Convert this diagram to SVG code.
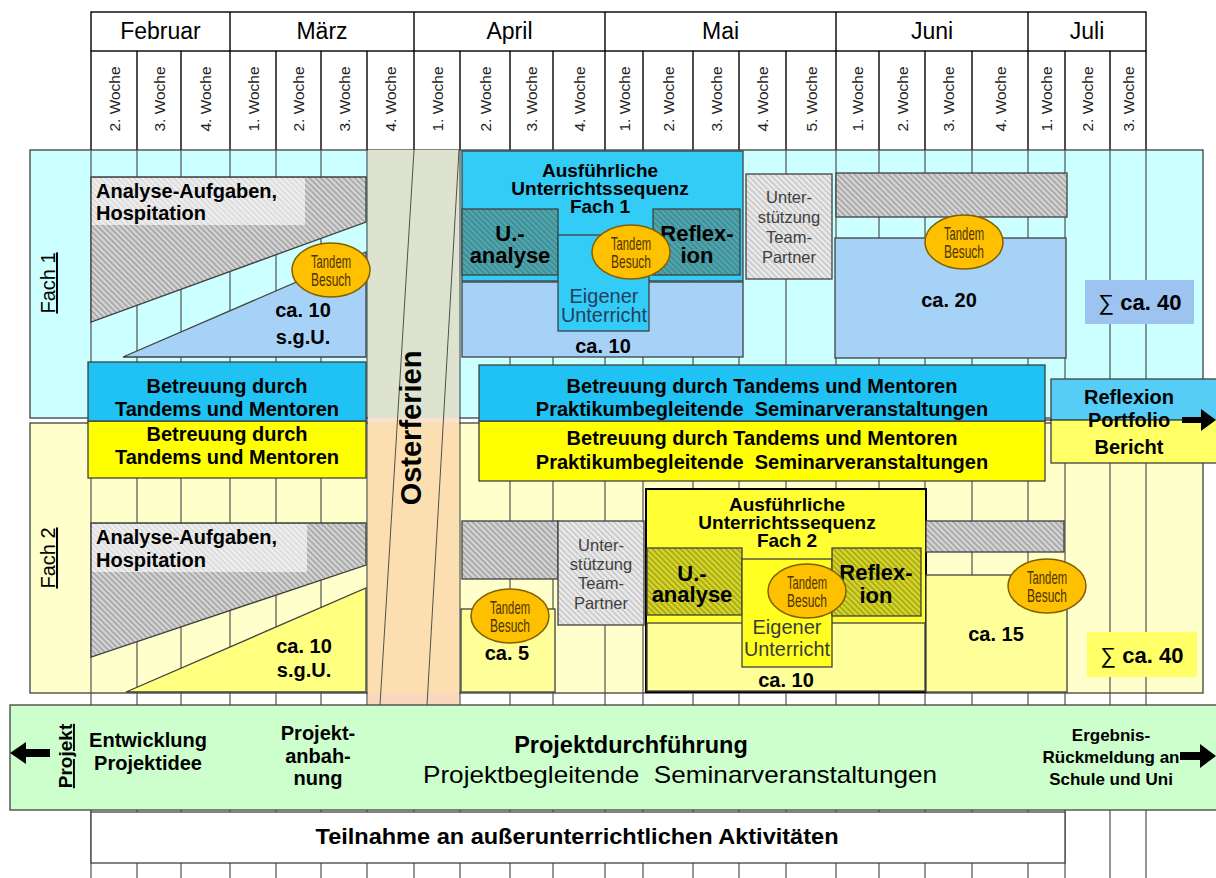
<svg xmlns="http://www.w3.org/2000/svg" width="1216" height="878" viewBox="0 0 1216 878">
<defs>
<style>
text{font-family:"Liberation Sans",Arial,sans-serif;fill:#000}
.m{text-anchor:middle}
.wk{font-size:15.5px;text-anchor:middle;fill:#222}
.mo{font-size:23px;text-anchor:middle}
.grid{stroke:#505050;stroke-width:1.2}
.hdr{stroke:#000;stroke-width:1.4;fill:none}
.box{stroke:#404040;stroke-width:1.3}
.t19{font-size:19px;font-weight:bold;text-anchor:middle}
.bt{font-size:20px;font-weight:bold;text-anchor:middle;white-space:pre}
.t20{font-size:20px;font-weight:bold;text-anchor:middle}
.t22{font-size:22px;font-weight:bold;text-anchor:middle}
.lbl{font-size:20px;font-weight:bold}
.tan{font-size:19px;text-anchor:middle;fill:#4a3500}
.ell{fill:#ffc000;stroke:#806000;stroke-width:1.5}
.us{font-size:16.5px;text-anchor:middle;fill:#404040}
.eig{font-size:20px;text-anchor:middle}
.sl{stroke:#505050;stroke-width:1}
.arr{fill:#000}
</style>
<pattern id="hG" width="4" height="4" patternUnits="userSpaceOnUse" patternTransform="rotate(-45)">
<rect width="4" height="4" fill="#d6d6d6"/><line x1="1" y1="0" x2="1" y2="4" stroke="#8e8e8e" stroke-width="1.2"/>
</pattern>
<pattern id="hL" width="4" height="4" patternUnits="userSpaceOnUse" patternTransform="rotate(-45)">
<rect width="4" height="4" fill="#ececec"/><line x1="1" y1="0" x2="1" y2="4" stroke="#b4b4b4" stroke-width="1.1"/>
</pattern>
<pattern id="hT" width="4" height="4" patternUnits="userSpaceOnUse" patternTransform="rotate(-45)">
<rect width="4" height="4" fill="#52a6ae"/><line x1="1" y1="0" x2="1" y2="4" stroke="#347f88" stroke-width="1.2"/>
</pattern>
<pattern id="hO" width="4" height="4" patternUnits="userSpaceOnUse" patternTransform="rotate(-45)">
<rect width="4" height="4" fill="#d8d826"/><line x1="1" y1="0" x2="1" y2="4" stroke="#8e8e14" stroke-width="1.2"/>
</pattern>
</defs>

<rect width="1216" height="878" fill="#fff"/>

<!-- Header -->
<g id="header">
<rect x="91" y="12" width="1055" height="39" fill="#fff" class="hdr"/>
<g class="hdr">
<line x1="230" y1="12" x2="230" y2="51"/><line x1="414" y1="12" x2="414" y2="51"/><line x1="605" y1="12" x2="605" y2="51"/><line x1="836" y1="12" x2="836" y2="51"/><line x1="1028" y1="12" x2="1028" y2="51"/>
<line x1="91" y1="51" x2="91" y2="150"/><line x1="137" y1="51" x2="137" y2="150"/><line x1="181" y1="51" x2="181" y2="150"/><line x1="230" y1="51" x2="230" y2="150"/><line x1="276" y1="51" x2="276" y2="150"/><line x1="321" y1="51" x2="321" y2="150"/><line x1="367" y1="51" x2="367" y2="150"/><line x1="414" y1="51" x2="414" y2="150"/><line x1="460" y1="51" x2="460" y2="150"/><line x1="510" y1="51" x2="510" y2="150"/><line x1="553" y1="51" x2="553" y2="150"/><line x1="605" y1="51" x2="605" y2="150"/><line x1="643" y1="51" x2="643" y2="150"/><line x1="693" y1="51" x2="693" y2="150"/><line x1="739" y1="51" x2="739" y2="150"/><line x1="786" y1="51" x2="786" y2="150"/><line x1="836" y1="51" x2="836" y2="150"/><line x1="879" y1="51" x2="879" y2="150"/><line x1="925" y1="51" x2="925" y2="150"/><line x1="972" y1="51" x2="972" y2="150"/><line x1="1028" y1="51" x2="1028" y2="150"/><line x1="1065" y1="51" x2="1065" y2="150"/><line x1="1110" y1="51" x2="1110" y2="150"/><line x1="1146" y1="51" x2="1146" y2="150"/>
</g>
<text class="mo" x="160.5" y="39">Februar</text>
<text class="mo" x="322" y="39">März</text>
<text class="mo" x="509.5" y="39">April</text>
<text class="mo" x="720.5" y="39">Mai</text>
<text class="mo" x="932" y="39">Juni</text>
<text class="mo" x="1087" y="39">Juli</text>
<text class="wk" transform="translate(119.5,99) rotate(-90)">2. Woche</text>
<text class="wk" transform="translate(164.5,99) rotate(-90)">3. Woche</text>
<text class="wk" transform="translate(211,99) rotate(-90)">4. Woche</text>
<text class="wk" transform="translate(258.5,99) rotate(-90)">1. Woche</text>
<text class="wk" transform="translate(304,99) rotate(-90)">2. Woche</text>
<text class="wk" transform="translate(349.5,99) rotate(-90)">3. Woche</text>
<text class="wk" transform="translate(396,99) rotate(-90)">4. Woche</text>
<text class="wk" transform="translate(442.5,99) rotate(-90)">1. Woche</text>
<text class="wk" transform="translate(490.5,99) rotate(-90)">2. Woche</text>
<text class="wk" transform="translate(537,99) rotate(-90)">3. Woche</text>
<text class="wk" transform="translate(584.5,99) rotate(-90)">4. Woche</text>
<text class="wk" transform="translate(629.5,99) rotate(-90)">1. Woche</text>
<text class="wk" transform="translate(673.5,99) rotate(-90)">2. Woche</text>
<text class="wk" transform="translate(721.5,99) rotate(-90)">3. Woche</text>
<text class="wk" transform="translate(768,99) rotate(-90)">4. Woche</text>
<text class="wk" transform="translate(816.5,99) rotate(-90)">5. Woche</text>
<text class="wk" transform="translate(863,99) rotate(-90)">1. Woche</text>
<text class="wk" transform="translate(907.5,99) rotate(-90)">2. Woche</text>
<text class="wk" transform="translate(954,99) rotate(-90)">3. Woche</text>
<text class="wk" transform="translate(1005.5,99) rotate(-90)">4. Woche</text>
<text class="wk" transform="translate(1052,99) rotate(-90)">1. Woche</text>
<text class="wk" transform="translate(1093,99) rotate(-90)">2. Woche</text>
<text class="wk" transform="translate(1133.5,99) rotate(-90)">3. Woche</text>
</g>

<!-- Regions -->
<g id="fach1-region"><rect x="30" y="150" width="1173" height="268" fill="#ccffff" class="box"/></g>
<g id="fach2-region"><rect x="30" y="423" width="1173" height="270" fill="#ffffcc" class="box"/></g>

<!-- Grid -->
<g id="grid" class="grid">
<line x1="91" y1="150" x2="91" y2="878"/><line x1="137" y1="150" x2="137" y2="878"/><line x1="181" y1="150" x2="181" y2="878"/><line x1="230" y1="150" x2="230" y2="878"/><line x1="276" y1="150" x2="276" y2="878"/><line x1="321" y1="150" x2="321" y2="878"/><line x1="367" y1="150" x2="367" y2="878"/><line x1="414" y1="150" x2="414" y2="878"/><line x1="460" y1="150" x2="460" y2="878"/><line x1="510" y1="150" x2="510" y2="878"/><line x1="553" y1="150" x2="553" y2="878"/><line x1="605" y1="150" x2="605" y2="878"/><line x1="643" y1="150" x2="643" y2="878"/><line x1="693" y1="150" x2="693" y2="878"/><line x1="739" y1="150" x2="739" y2="878"/><line x1="786" y1="150" x2="786" y2="878"/><line x1="836" y1="150" x2="836" y2="878"/><line x1="879" y1="150" x2="879" y2="878"/><line x1="925" y1="150" x2="925" y2="878"/><line x1="972" y1="150" x2="972" y2="878"/><line x1="1028" y1="150" x2="1028" y2="878"/><line x1="1065" y1="150" x2="1065" y2="878"/><line x1="1110" y1="150" x2="1110" y2="878"/><line x1="1146" y1="150" x2="1146" y2="878"/>
</g>

<!-- Osterferien -->
<g id="osterferien">
<rect x="368" y="150" width="91" height="268" fill="#dde3cf"/>
<rect x="368" y="418" width="91" height="5" fill="#fbe0cd"/>
<rect x="368" y="423" width="91" height="270" fill="#fbdfb0"/>
<rect x="368" y="693" width="91" height="12" fill="#fbd8bd"/>
<line class="sl" x1="414" y1="150" x2="380" y2="705"/>
<line class="sl" x1="459" y1="150" x2="427" y2="705"/>
<text transform="translate(421,428) rotate(-90)" class="m" style="font-size:29px;font-weight:bold">Osterferien</text>
</g>

<!-- Fach 1 -->
<g id="f1-analyse">
<polygon points="91,177 366,177 366,222 91,322" fill="url(#hG)" class="box"/>
<rect x="92" y="178" width="213" height="47" fill="#fff" opacity="0.6"/>
<text class="lbl" x="96" y="198">Analyse-Aufgaben,</text>
<text class="lbl" x="96" y="220">Hospitation</text>
</g>
<g id="f1-sgu">
<polygon points="123,357 366,252 366,357" fill="#a6d2f7" class="box"/>
<text class="t20" x="303" y="317">ca. 10</text>
<text class="t20" x="303" y="344">s.g.U.</text>
</g>
<g id="f1-tandem1"><ellipse class="ell" cx="331" cy="270" rx="39" ry="27"/><text class="tan" x="331" y="268" textLength="40" lengthAdjust="spacingAndGlyphs">Tandem</text><text class="tan" x="331" y="286" textLength="40" lengthAdjust="spacingAndGlyphs">Besuch</text></g>

<g id="f1-sequenz">
<rect x="462" y="151" width="281" height="130" fill="#33ccf7" class="box"/>
<rect x="462" y="282" width="281" height="75" fill="#a6d2f7" class="box"/>
<text class="t19" x="600" y="177">Ausführliche</text>
<text class="t19" x="600" y="195">Unterrichtssequenz</text>
<text class="t19" x="600" y="213">Fach 1</text>
<text class="t20" x="603" y="353">ca. 10</text>
</g>
<g id="f1-uanalyse"><rect x="462" y="209" width="96" height="66" fill="url(#hT)" class="box"/><text class="t22" x="510" y="241">U.-</text><text class="t22" x="510" y="263">analyse</text></g>
<g id="f1-eigener"><rect x="558" y="235" width="91" height="96" fill="#33ccf7" class="box"/><text class="eig" x="604" y="303" style="fill:#24405c">Eigener</text><text class="eig" x="604" y="322" style="fill:#24405c" textLength="86" lengthAdjust="spacingAndGlyphs">Unterricht</text></g>
<g id="f1-reflexion"><rect x="653" y="209" width="87" height="66" fill="url(#hT)" class="box"/><text class="t22" x="697" y="241">Reflex-</text><text class="t22" x="697" y="263">ion</text></g>
<g id="f1-tandem2"><ellipse class="ell" cx="631" cy="252" rx="39" ry="27"/><text class="tan" x="631" y="250" textLength="40" lengthAdjust="spacingAndGlyphs">Tandem</text><text class="tan" x="631" y="268" textLength="40" lengthAdjust="spacingAndGlyphs">Besuch</text></g>
<g id="f1-unterstuetzung"><rect x="746" y="174" width="86" height="105" fill="url(#hL)" class="box"/><text class="us" x="789" y="203">Unter-</text><text class="us" x="789" y="223">stützung</text><text class="us" x="789" y="243">Team-</text><text class="us" x="789" y="263">Partner</text></g>
<g id="f1-bar"><rect x="836" y="173" width="231" height="44" fill="url(#hG)" class="box"/></g>
<g id="f1-ca20"><rect x="835" y="238" width="231" height="120" fill="#a6d2f7" class="box"/><text class="t20" x="949" y="307">ca. 20</text></g>
<g id="f1-tandem3"><ellipse class="ell" cx="964" cy="242" rx="39" ry="27"/><text class="tan" x="964" y="240" textLength="40" lengthAdjust="spacingAndGlyphs">Tandem</text><text class="tan" x="964" y="258" textLength="40" lengthAdjust="spacingAndGlyphs">Besuch</text></g>
<g id="f1-sum"><rect x="1085" y="280" width="109" height="44" fill="#9dc3f0"/><text x="1140" y="310" class="m" style="font-size:22px"><tspan>∑ </tspan><tspan font-weight="bold">ca. 40</tspan></text></g>

<!-- Betreuung -->
<g id="f2-betreuung1"><rect x="88" y="421" width="278" height="57" fill="#ffff00" class="box"/><text class="bt" x="227" y="441">Betreuung durch</text><text class="bt" x="227" y="464">Tandems und Mentoren</text></g>
<g id="f2-betreuung2"><rect x="479" y="421" width="566" height="60" fill="#ffff00" class="box"/><text class="bt" x="762" y="445">Betreuung durch Tandems und Mentoren</text><text class="bt" x="762" y="469">Praktikumbegleitende  Seminarveranstaltungen</text></g>
<g id="f1-betreuung1"><rect x="88" y="362" width="278" height="59" fill="#1fc2f2" class="box"/><text class="bt" x="227" y="393">Betreuung durch</text><text class="bt" x="227" y="416">Tandems und Mentoren</text></g>
<g id="f1-betreuung2"><rect x="479" y="365" width="566" height="56" fill="#1fc2f2" class="box"/><text class="bt" x="762" y="393">Betreuung durch Tandems und Mentoren</text><text class="bt" x="762" y="416">Praktikumbegleitende  Seminarveranstaltungen</text></g>

<g id="reflexion-portfolio">
<rect x="1051" y="379" width="170" height="41" fill="#55cdf6"/>
<rect x="1051" y="420" width="170" height="43" fill="#ffff66"/>
<rect x="1051" y="379" width="170" height="84" fill="none" class="box"/>
<text class="t20" x="1129" y="404">Reflexion</text>
<text class="t20" x="1129" y="427">Portfolio</text>
<text class="t20" x="1129" y="454">Bericht</text>
</g>

<!-- Fach 2 -->
<g id="f2-analyse">
<polygon points="91,523 366,523 366,565 91,657" fill="url(#hG)" class="box"/>
<rect x="92" y="524" width="215" height="48" fill="#fff" opacity="0.6"/>
<text class="lbl" x="96" y="544">Analyse-Aufgaben,</text>
<text class="lbl" x="96" y="567">Hospitation</text>
</g>
<g id="f2-sgu">
<polygon points="126,692 366,588 366,692" fill="#ffff80" class="box"/>
<text class="t20" x="304" y="653">ca. 10</text>
<text class="t20" x="304" y="677">s.g.U.</text>
</g>
<g id="f2-bar1"><rect x="462" y="521" width="96" height="58" fill="url(#hG)" class="box"/></g>
<g id="f2-unterstuetzung"><rect x="558" y="521" width="86" height="104" fill="url(#hL)" class="box"/><text class="us" x="601" y="551">Unter-</text><text class="us" x="601" y="570">stützung</text><text class="us" x="601" y="589">Team-</text><text class="us" x="601" y="609">Partner</text></g>
<g id="f2-ca5"><rect x="461" y="609" width="94" height="83" fill="#ffff99" class="box"/><text class="t20" x="507" y="660">ca. 5</text></g>
<g id="f2-tandem1"><ellipse class="ell" cx="510" cy="616" rx="39" ry="27"/><text class="tan" x="510" y="614" textLength="40" lengthAdjust="spacingAndGlyphs">Tandem</text><text class="tan" x="510" y="632" textLength="40" lengthAdjust="spacingAndGlyphs">Besuch</text></g>

<g id="f2-sequenz">
<rect x="646" y="489" width="280" height="203" fill="#ffff33" stroke="#000" stroke-width="2"/>
<rect x="647" y="623" width="278" height="68" fill="#ffff99" class="box"/>
<text class="t19" x="787" y="511">Ausführliche</text>
<text class="t19" x="787" y="529">Unterrichtssequenz</text>
<text class="t19" x="787" y="547">Fach 2</text>
<text class="t20" x="786" y="687">ca. 10</text>
</g>
<g id="f2-uanalyse"><rect x="647" y="548" width="95" height="67" fill="url(#hO)" class="box"/><text class="t22" x="692" y="581">U.-</text><text class="t22" x="692" y="602">analyse</text></g>
<g id="f2-eigener"><rect x="742" y="559" width="90" height="108" fill="#ffff22" class="box"/><text class="eig" x="787" y="634" style="fill:#3a3a3a">Eigener</text><text class="eig" x="787" y="656" style="fill:#3a3a3a" textLength="86" lengthAdjust="spacingAndGlyphs">Unterricht</text></g>
<g id="f2-reflexion"><rect x="832" y="548" width="89" height="68" fill="url(#hO)" class="box"/><text class="t22" x="876" y="580">Reflex-</text><text class="t22" x="876" y="603">ion</text></g>
<g id="f2-tandem2"><ellipse class="ell" cx="807" cy="591" rx="39" ry="27"/><text class="tan" x="807" y="589" textLength="40" lengthAdjust="spacingAndGlyphs">Tandem</text><text class="tan" x="807" y="607" textLength="40" lengthAdjust="spacingAndGlyphs">Besuch</text></g>
<g id="f2-bar2"><rect x="926" y="521" width="138" height="31" fill="url(#hG)" class="box"/></g>
<g id="f2-ca15"><rect x="926" y="575" width="141" height="117" fill="#ffff99" class="box"/><text class="t20" x="996" y="641">ca. 15</text></g>
<g id="f2-tandem3"><ellipse class="ell" cx="1047" cy="586" rx="39" ry="27"/><text class="tan" x="1047" y="584" textLength="40" lengthAdjust="spacingAndGlyphs">Tandem</text><text class="tan" x="1047" y="602" textLength="40" lengthAdjust="spacingAndGlyphs">Besuch</text></g>
<g id="f2-sum"><rect x="1087" y="632" width="110" height="45" fill="#ffff66"/><text x="1142" y="663" class="m" style="font-size:22px"><tspan>∑ </tspan><tspan font-weight="bold">ca. 40</tspan></text></g>

<!-- Labels -->
<g id="label-fach1"><text transform="translate(55,283) rotate(-90)" class="m" style="font-size:20px;text-decoration:underline">Fach 1</text></g>
<g id="label-fach2"><text transform="translate(55,558) rotate(-90)" class="m" style="font-size:20px;text-decoration:underline">Fach 2</text></g>

<!-- Projekt band -->
<g id="projekt">
<rect x="10" y="705" width="1210" height="105" fill="#ccffcc" class="box"/>
<text transform="translate(72,756) rotate(-90)" class="m" style="font-size:19px;font-weight:bold;text-decoration:underline">Projekt</text>
<text class="t20" x="148" y="747">Entwicklung</text>
<text class="t20" x="148" y="770">Projektidee</text>
<text class="t20" x="318" y="740">Projekt-</text>
<text class="t20" x="318" y="763">anbah-</text>
<text class="t20" x="318" y="785">nung</text>
<text class="m" x="631" y="753" style="font-size:23.5px;font-weight:bold">Projektdurchführung</text>
<text class="m" x="680" y="783" style="font-size:24px;white-space:pre" textLength="514" lengthAdjust="spacingAndGlyphs">Projektbegleitende  Seminarveranstaltungen</text>
<text class="m" x="1111" y="741" style="font-size:17px;font-weight:bold">Ergebnis-</text>
<text class="m" x="1111" y="763" style="font-size:17px;font-weight:bold">Rückmeldung an</text>
<text class="m" x="1111" y="785" style="font-size:17px;font-weight:bold">Schule und Uni</text>
</g>
<g id="teilnahme"><rect x="91" y="812" width="974" height="51" fill="#fff" class="box"/><text class="m" x="577" y="844" style="font-size:22.5px;font-weight:bold" textLength="523" lengthAdjust="spacingAndGlyphs">Teilnahme an außerunterrichtlichen Aktivitäten</text></g>

<!-- Connectors -->
<g id="connectors">
<line x1="1045" y1="420" x2="1185" y2="420" stroke="#000" stroke-width="1"/>
<polygon class="arr" points="1182,417 1201,417 1201,409 1216,420 1201,431 1201,423 1182,423"/>
<polygon class="arr" points="10,753 26,742 26,749 50,749 50,757 26,757 26,764"/>
<polygon class="arr" points="1180,752 1200,752 1200,744 1216,756 1200,768 1200,760 1180,760"/>
</g>
</svg>
